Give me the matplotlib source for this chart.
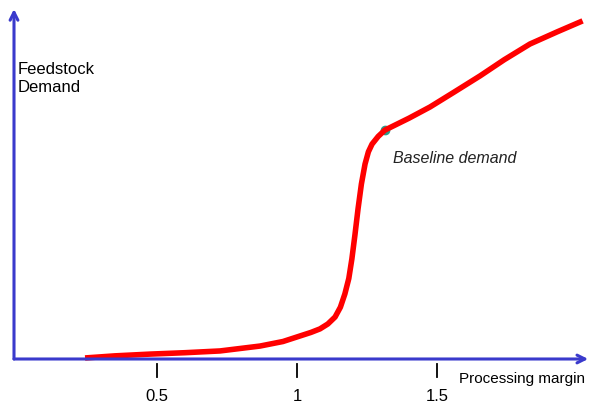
import matplotlib.pyplot as plt

# processing margin vs feedstock demand (demand in arbitrary units, 0..100)
margin = [0.243, 0.35, 0.475, 0.6, 0.725, 0.868, 0.95, 1.0, 1.05, 1.082, 1.11, 1.136,
          1.155, 1.171, 1.185, 1.196, 1.207, 1.218, 1.23, 1.243, 1.255, 1.268, 1.29,
          1.314, 1.4, 1.475, 1.56, 1.654, 1.74, 1.832, 1.93, 2.02]
demand = [0.3, 0.9, 1.4, 1.8, 2.3, 3.7, 5.0, 6.3, 7.6, 8.6, 10.0, 12.0,
          14.8, 18.6, 23.0, 28.6, 35.5, 42.9, 50.0, 55.7, 59.2, 61.4, 63.6,
          65.4, 68.8, 72.0, 76.2, 80.9, 85.5, 90.0, 93.5, 96.6]
baseline = (1.314, 65.4)
tick_vals = [0.5, 1, 1.5]
tick_labels = ['0.5', '1', '1.5']

fig = plt.figure(figsize=(5.91, 4.06), dpi=100)
ax = fig.add_axes([0, 0, 1, 1])
ax.set_xlim(-17 / 280, 574 / 280)
ax.set_ylim(-46 / 3.5, 360 / 3.5)
ax.axis('off')

blue = '#3a3acc'
x0 = -3 / 280
# axes with arrows
ax.annotate('', xy=(2.04, 0), xytext=(x0, 0),
            arrowprops=dict(arrowstyle='->', color=blue, lw=2.2, mutation_scale=14,
                            shrinkA=0, shrinkB=0))
ax.annotate('', xy=(x0, 100), xytext=(x0, 0),
            arrowprops=dict(arrowstyle='->', color=blue, lw=2.2, mutation_scale=14,
                            shrinkA=0, shrinkB=0))

# ticks under the axis
for t, lab in zip(tick_vals, tick_labels):
    ax.plot([t, t], [-1.4, -5.1], color='black', lw=1.3)
    ax.text(t, -10.3, lab, ha='center', va='center', fontsize=12, family='Liberation Sans')

ax.plot(margin, demand, color='#ff0000', lw=4, solid_capstyle='butt', solid_joinstyle='round')
ax.plot(*baseline, 'o', color='#2a9d8a', ms=6, zorder=1)

ax.text(1.0 / 280, 80.4, 'Feedstock\nDemand', ha='left', va='center', fontsize=12,
        family='Liberation Sans', linespacing=1.3)
ax.text(1.343, 57.5, 'Baseline demand', ha='left', va='center', fontsize=11.5,
        style='italic', family='Liberation Sans', color='#222222')
ax.text(1.579, -5.3, 'Processing margin', ha='left', va='center', fontsize=11,
        family='Liberation Sans')

plt.savefig('out.png')
